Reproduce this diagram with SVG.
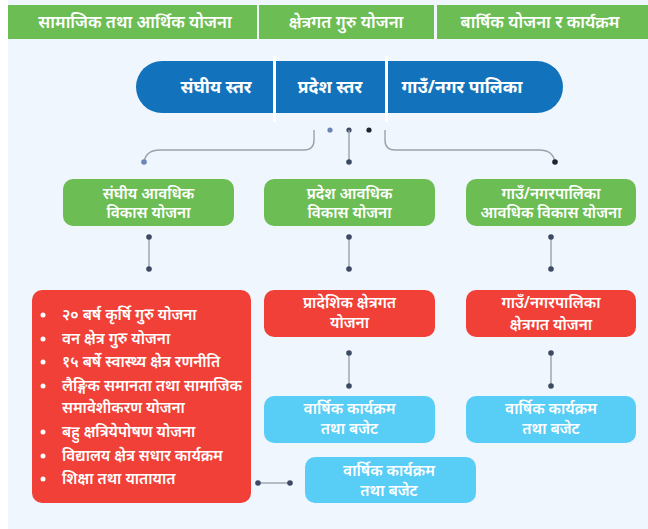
<svg xmlns="http://www.w3.org/2000/svg" width="648" height="529" viewBox="0 0 648 529">
<style>
  text { font-family: "Noto Sans", "Lato", sans-serif; fill: #ffffff; text-anchor: middle; }
  .hdr { font-size: 16.8px; font-weight: 600; }
  .pill { font-size: 17.5px; font-weight: 700; }
  .lbl { font-size: 15.4px; font-weight: 600; }
  .li { font-size: 15.3px; font-weight: 600; text-anchor: start; }
  .green { fill: #6cbd54; }
  .red { fill: #f04037; }
  .cyan { fill: #58cdf6; }
  .con { fill: none; stroke: #9ba2ab; stroke-width: 1.4; }
  .dot { fill: #3e4a63; }
</style>
<rect x="0" y="0" width="648" height="529" fill="#ffffff"/>
<rect x="8" y="0" width="640" height="529" fill="#eff6fe"/>

<g id="header">
  <rect class="green" x="8" y="5" width="249" height="34"/>
  <rect class="green" x="259" y="5" width="175" height="34"/>
  <rect class="green" x="437" y="5" width="211" height="34"/>
  <text class="hdr" x="135" y="28">सामाजिक तथा आर्थिक योजना</text>
  <text class="hdr" x="346" y="28">क्षेत्रगत गुरु योजना</text>
  <text class="hdr" x="540" y="28">बार्षिक योजना र कार्यक्रम</text>
</g>

<g id="levels">
  <rect x="136" y="61" width="427" height="52" rx="26" fill="#1273bc"/>
  <rect x="273" y="56" width="3" height="66" fill="#ffffff"/>
  <rect x="385" y="56" width="3" height="66" fill="#ffffff"/>
  <text class="pill" x="216" y="93">संघीय स्तर</text>
  <text class="pill" x="330" y="93">प्रदेश स्तर</text>
  <text class="pill" x="462" y="93">गाउँ/नगर पालिका</text>
  <circle cx="330" cy="130" r="2.6" fill="#6a86b8"/>
  <circle cx="349" cy="130" r="2.6" fill="#3f4a63"/>
  <circle cx="369" cy="130" r="2.6" fill="#1d2533"/>
</g>

<g id="connectors">
  <path class="con" d="M314 130 V140 Q314 150 304 150 H160 Q146 150 144 162"/>
  <path class="con" d="M349 130 V162"/>
  <path class="con" d="M385 130 V140 Q385 150 395 150 H539 Q553 150 555 162"/>
  <circle cx="144" cy="162" r="2.8" fill="#6a86b8"/>
  <circle class="dot" cx="349" cy="162" r="2.8"/>
  <circle cx="555" cy="162" r="2.8" fill="#1d2533"/>

  <path class="con" d="M149 237 V269"/>
  <circle class="dot" cx="149" cy="237" r="2.8"/>
  <circle class="dot" cx="149" cy="269" r="2.8"/>
  <path class="con" d="M349 237 V269"/>
  <circle class="dot" cx="349" cy="237" r="2.8"/>
  <circle class="dot" cx="349" cy="269" r="2.8"/>
  <path class="con" d="M551 237 V269"/>
  <circle class="dot" cx="551" cy="237" r="2.8"/>
  <circle class="dot" cx="551" cy="269" r="2.8"/>

  <path class="con" d="M349 353 V386"/>
  <circle class="dot" cx="349" cy="353" r="2.8"/>
  <circle class="dot" cx="349" cy="386" r="2.8"/>
  <path class="con" d="M551 353 V386"/>
  <circle class="dot" cx="551" cy="353" r="2.8"/>
  <circle class="dot" cx="551" cy="386" r="2.8"/>

  <path class="con" d="M258 483 H290"/>
  <circle class="dot" cx="258" cy="483" r="2.8"/>
  <circle class="dot" cx="290" cy="483" r="2.8"/>
</g>

<g id="federal-plan">
  <rect class="green" x="63" y="179" width="171" height="47" rx="10"/>
  <text class="lbl" x="148.5" y="199">संघीय आवधिक</text>
  <text class="lbl" x="148.5" y="218">विकास योजना</text>
</g>
<g id="province-plan">
  <rect class="green" x="264" y="179" width="171" height="47" rx="10"/>
  <text class="lbl" x="349.5" y="199">प्रदेश आवधिक</text>
  <text class="lbl" x="349.5" y="218">विकास योजना</text>
</g>
<g id="local-plan">
  <rect class="green" x="466" y="179" width="170" height="47" rx="10"/>
  <text class="lbl" x="551" y="199">गाउँ/नगरपालिका</text>
  <text class="lbl" x="551" y="218">आवधिक विकास योजना</text>
</g>

<g id="federal-sector">
  <rect class="red" x="32" y="290" width="219" height="213" rx="10"/>
  <g fill="#ffffff">
    <circle cx="43" cy="315" r="2.5"/>
    <circle cx="43" cy="339" r="2.5"/>
    <circle cx="43" cy="362" r="2.5"/>
    <circle cx="43" cy="386" r="2.5"/>
    <circle cx="43" cy="432" r="2.5"/>
    <circle cx="43" cy="456" r="2.5"/>
    <circle cx="43" cy="479" r="2.5"/>
  </g>
  <text class="li" x="62" y="320">२० बर्ष कृर्षि गुरु योजना</text>
  <text class="li" x="62" y="344">वन क्षेत्र गुरु योजना</text>
  <text class="li" x="62" y="367">१५ बर्षे स्वास्थ्य क्षेत्र रणनीति</text>
  <text class="li" x="62" y="391" textLength="180" lengthAdjust="spacingAndGlyphs">लैङ्गिक समानता तथा सामाजिक</text>
  <text class="li" x="62" y="413">समावेशीकरण योजना</text>
  <text class="li" x="62" y="437">बहु क्षत्रियेपोषण योजना</text>
  <text class="li" x="62" y="461">विद्यालय क्षेत्र सधार कार्यक्रम</text>
  <text class="li" x="62" y="484">शिक्षा तथा यातायात</text>
</g>

<g id="province-sector">
  <rect class="red" x="264" y="290" width="171" height="47" rx="10"/>
  <text class="lbl" x="349.5" y="308">प्रादेशिक क्षेत्रगत</text>
  <text class="lbl" x="349.5" y="328">योजना</text>
</g>
<g id="local-sector">
  <rect class="red" x="466" y="290" width="170" height="47" rx="10"/>
  <text class="lbl" x="551" y="308">गाउँ/नगरपालिका</text>
  <text class="lbl" x="551" y="330">क्षेत्रगत योजना</text>
</g>

<g id="province-budget">
  <rect class="cyan" x="264" y="396" width="171" height="47" rx="10"/>
  <text class="lbl" x="349.5" y="414">वार्षिक कार्यक्रम</text>
  <text class="lbl" x="349.5" y="434">तथा बजेट</text>
</g>
<g id="local-budget">
  <rect class="cyan" x="466" y="396" width="170" height="47" rx="10"/>
  <text class="lbl" x="551" y="414">वार्षिक कार्यक्रम</text>
  <text class="lbl" x="551" y="434">तथा बजेट</text>
</g>
<g id="federal-budget">
  <rect class="cyan" x="305" y="457" width="171" height="46" rx="10"/>
  <text class="lbl" x="389" y="476">वार्षिक कार्यक्रम</text>
  <text class="lbl" x="389" y="496">तथा बजेट</text>
</g>
</svg>
